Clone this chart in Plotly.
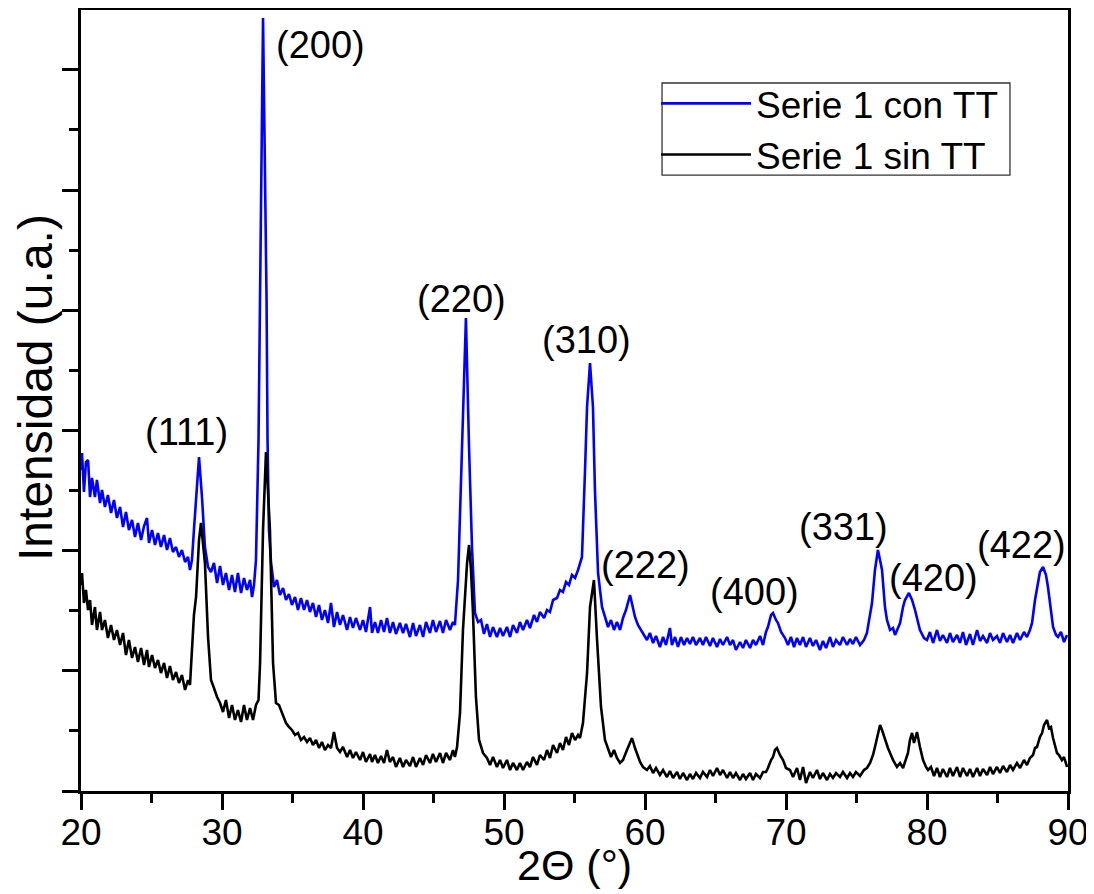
import plotly.graph_objects as go

# ---- data (2theta in degrees, intensity in arbitrary units) ----
con_tt_2theta = [20.00,20.07,20.21,20.35,20.50,20.64,20.78,20.99,21.13,21.35,21.49,21.70,21.91,22.13,22.34,22.55,22.77,22.98,23.19,23.40,
23.62,23.83,24.04,24.26,24.47,24.68,24.82,25.04,25.25,25.46,25.67,25.89,26.10,26.31,26.52,26.74,26.95,27.16,27.38,27.59,
27.73,27.87,28.01,28.16,28.37,28.58,28.79,29.01,29.22,29.43,29.65,29.86,30.07,30.28,30.50,30.71,30.92,31.13,31.35,31.56,
31.77,31.99,32.13,32.27,32.41,32.59,32.70,32.80,32.91,33.01,33.16,33.23,33.33,33.48,33.69,33.90,34.11,34.33,34.54,34.75,
34.96,35.18,35.39,35.60,35.82,36.03,36.24,36.45,36.67,36.88,37.09,37.30,37.52,37.73,37.94,38.16,38.37,38.58,38.87,39.08,
39.29,39.50,39.79,40.00,40.21,40.50,40.64,40.85,41.06,41.28,41.49,41.70,41.91,42.13,42.34,42.62,42.84,43.05,43.33,43.55,
43.76,44.04,44.26,44.47,44.75,44.96,45.18,45.46,45.67,45.89,46.17,46.38,46.52,46.74,47.02,47.30,47.52,47.73,47.94,48.16,
48.37,48.58,48.79,49.01,49.22,49.50,49.72,49.93,50.21,50.43,50.64,50.92,51.13,51.35,51.63,51.84,52.13,52.34,52.55,52.84,
53.05,53.26,53.48,53.76,53.97,54.18,54.40,54.61,54.82,55.04,55.25,55.53,55.74,55.89,56.10,56.31,56.45,56.67,56.95,57.16,
57.38,57.59,57.80,58.01,58.23,58.44,58.65,58.94,59.15,59.29,59.50,59.72,59.93,60.14,60.35,60.57,60.78,61.06,61.28,61.49,
61.77,61.91,62.13,62.34,62.55,62.77,62.98,63.19,63.40,63.62,63.90,64.11,64.33,64.61,64.82,65.11,65.32,65.53,65.82,66.03,
66.24,66.45,66.74,66.95,67.16,67.45,67.66,67.87,68.16,68.37,68.58,68.72,68.94,69.08,69.29,69.43,69.65,69.93,70.14,70.35,
70.57,70.78,70.99,71.21,71.42,71.70,71.91,72.13,72.41,72.62,72.84,73.12,73.33,73.55,73.83,74.04,74.33,74.54,74.75,74.96,
75.25,75.53,75.74,75.96,76.10,76.31,76.52,76.67,76.81,77.02,77.16,77.38,77.59,77.73,77.87,78.09,78.30,78.44,78.72,78.94,
79.15,79.36,79.50,79.79,80.00,80.21,80.43,80.71,80.92,81.13,81.42,81.63,81.84,82.13,82.34,82.55,82.77,83.05,83.26,83.55,
83.76,83.97,84.26,84.47,84.68,84.96,85.18,85.39,85.67,85.89,86.10,86.38,86.60,86.88,87.09,87.30,87.45,87.66,87.80,88.01,
88.23,88.44,88.58,88.79,88.94,89.15,89.29,89.50,89.72,89.93]
con_tt_intensity = [321,338,299,329,331,294,313,294,311,288,301,284,296,278,291,273,284,264,279,261,
271,254,268,251,265,273,248,261,246,258,244,256,241,253,239,244,234,241,229,234,
221,231,261,294,334,294,244,224,219,228,208,225,206,218,201,216,199,218,198,213,
201,211,194,206,231,351,491,661,773,661,491,351,261,228,204,211,196,203,191,197,
186,194,181,193,181,191,179,188,174,186,171,181,168,188,164,179,166,176,161,174,
163,173,161,171,159,184,158,169,158,171,159,173,158,169,157,168,158,167,154,168,
155,166,154,169,158,171,159,170,158,171,161,169,166,211,344,473,344,244,178,169,
171,157,167,154,164,154,163,155,164,154,166,158,169,161,171,163,176,169,179,173,
181,179,191,193,201,199,209,206,216,213,221,234,318,384,428,384,301,218,184,174,
164,171,161,169,161,173,181,196,183,174,166,161,156,151,158,148,155,144,154,146,
163,146,154,144,154,146,153,147,154,146,153,146,154,145,153,144,152,146,154,146,
151,141,149,143,151,143,151,146,155,146,159,164,176,178,171,168,159,153,146,154,
144,153,146,154,144,153,145,151,141,150,143,154,144,151,146,154,146,152,147,154,
146,151,158,176,188,221,241,231,221,184,171,161,163,156,161,168,184,191,198,191,
181,169,161,153,151,159,148,161,150,156,148,158,149,156,148,159,146,157,146,161,
150,155,148,158,151,155,148,158,149,156,148,158,151,159,154,161,168,191,204,219,
224,216,204,179,164,156,154,159,149,156]

sin_tt_2theta = [20.00,20.07,20.21,20.35,20.50,20.64,20.78,20.99,21.13,21.35,21.49,21.70,21.91,22.13,22.34,22.55,22.77,22.98,23.19,23.40,
23.62,23.83,24.04,24.26,24.47,24.68,24.82,25.04,25.25,25.46,25.67,25.89,26.10,26.31,26.52,26.74,26.95,27.16,27.38,27.59,
27.73,27.87,28.01,28.16,28.37,28.51,28.65,28.79,29.01,29.22,29.43,29.65,29.86,30.07,30.28,30.50,30.71,30.92,31.13,31.35,
31.56,31.77,31.99,32.20,32.41,32.59,32.70,32.91,33.12,33.40,33.62,33.83,34.04,34.18,34.40,34.54,34.75,34.96,35.18,35.39,
35.60,35.82,36.03,36.24,36.45,36.67,36.88,37.09,37.30,37.52,37.73,37.94,38.16,38.37,38.58,38.87,39.08,39.29,39.50,39.79,
40.00,40.21,40.50,40.64,40.85,41.06,41.28,41.49,41.70,41.91,42.13,42.34,42.62,42.84,43.05,43.33,43.55,43.76,44.04,44.26,
44.47,44.75,44.96,45.18,45.46,45.67,45.89,46.17,46.38,46.52,46.67,46.88,47.09,47.38,47.52,47.66,47.80,48.01,48.23,48.51,
48.79,49.01,49.22,49.50,49.72,49.93,50.21,50.43,50.64,50.92,51.13,51.35,51.63,51.84,52.06,52.34,52.55,52.84,53.05,53.26,
53.48,53.76,53.97,54.18,54.40,54.61,54.82,55.04,55.25,55.39,55.60,55.89,56.10,56.38,56.60,56.88,57.16,57.38,57.59,57.80,
58.01,58.23,58.44,58.72,58.94,59.08,59.29,59.43,59.65,59.86,60.14,60.35,60.57,60.78,61.06,61.28,61.56,61.77,61.99,62.27,
62.48,62.70,62.98,63.19,63.40,63.62,63.90,64.11,64.40,64.61,64.82,65.11,65.32,65.53,65.82,66.03,66.24,66.45,66.74,66.95,
67.16,67.45,67.66,67.87,68.16,68.37,68.58,68.72,68.94,69.08,69.22,69.36,69.57,69.79,70.00,70.28,70.50,70.78,70.99,71.21,
71.42,71.70,71.91,72.20,72.41,72.62,72.91,73.12,73.33,73.55,73.83,74.04,74.33,74.54,74.75,74.96,75.25,75.53,75.74,75.96,
76.17,76.31,76.52,76.67,76.81,77.02,77.23,77.38,77.59,77.87,78.09,78.30,78.51,78.65,78.79,78.94,79.08,79.29,79.50,79.72,
79.93,80.07,80.28,80.50,80.71,80.92,81.13,81.42,81.63,81.84,82.13,82.34,82.55,82.84,83.05,83.26,83.55,83.76,83.97,84.26,
84.47,84.68,84.96,85.18,85.39,85.67,85.89,86.10,86.38,86.60,86.88,87.09,87.30,87.52,87.66,87.80,88.01,88.16,88.30,88.44,
88.51,88.65,88.79,88.94,89.08,89.22,89.36,89.57,89.72,89.93]
sin_tt_intensity = [206,218,188,201,181,191,166,184,161,179,161,171,153,166,151,161,146,158,136,151,
133,144,129,143,126,141,124,136,123,131,118,128,113,125,111,119,108,116,101,111,
106,141,176,194,251,268,246,228,154,111,103,94,88,79,91,73,86,71,81,69,
86,71,83,71,86,91,128,261,339,261,128,88,86,81,73,68,64,61,56,58,
51,54,49,53,46,51,43,49,41,46,43,59,43,39,44,34,41,33,39,31,
39,29,37,29,36,28,35,28,41,29,34,24,33,24,31,25,34,24,33,26,
36,28,37,29,38,28,38,31,41,34,44,78,161,228,246,221,178,94,51,38,
33,26,34,24,31,23,31,21,28,21,28,21,29,24,34,26,36,31,41,33,
46,38,48,41,54,46,58,51,56,53,68,118,184,211,151,84,51,43,34,41,
33,28,31,41,49,53,43,38,29,24,21,25,18,23,16,21,14,20,13,19,
12,18,11,17,12,18,13,19,14,21,15,23,16,21,13,19,13,18,11,17,
12,18,11,17,13,19,19,23,31,34,41,43,36,31,23,21,14,23,11,24,
8,19,13,21,12,18,11,17,13,18,14,19,13,18,14,19,15,21,23,28,
36,44,56,66,61,51,43,38,31,24,28,23,31,38,51,58,48,59,44,31,
24,21,24,15,23,14,22,14,23,15,24,14,23,15,22,14,23,15,22,16,
24,17,24,18,25,19,26,21,28,23,31,26,33,36,43,44,54,58,66,69,
71,63,64,53,46,38,36,31,34,24]

series_names = ["Serie 1 con TT", "Serie 1 sin TT"]
series_colors = ["#0000FF", "#000000"]

peak_labels = ["(111)", "(200)", "(220)", "(310)", "(222)", "(400)", "(331)", "(420)", "(422)"]
peak_label_x = [27.45, 37.02, 47.02, 55.82, 60.00, 67.80, 74.11, 80.43, 86.67]
peak_label_y = [359, 746, 492, 451, 226, 199, 264, 213, 246]

x_range = [20, 90]
y_range = [0, 781]

FONT = "Arial, 'Liberation Sans', sans-serif"

fig = go.Figure()
fig.add_trace(go.Scatter(x=con_tt_2theta, y=con_tt_intensity, mode="lines", name=series_names[0],
                         line=dict(color=series_colors[0], width=2.6)))
fig.add_trace(go.Scatter(x=sin_tt_2theta, y=sin_tt_intensity, mode="lines", name=series_names[1],
                         line=dict(color=series_colors[1], width=2.6)))

for t, xx, yy in zip(peak_labels, peak_label_x, peak_label_y):
    fig.add_annotation(x=xx, y=yy, text=t, showarrow=False, xanchor="center", yanchor="middle",
                       font=dict(family=FONT, size=38, color="black"))

# axis titles placed as in the original
fig.add_annotation(x=0.5, y=-0.061, xref="paper", yref="paper", text="2Θ (°)", showarrow=False,
                   xanchor="center", yanchor="top", font=dict(family=FONT, size=43, color="black"))
fig.add_annotation(x=-0.0456, y=0.5173, xref="paper", yref="paper", text="Intensidad (u.a.)",
                   showarrow=False, textangle=-90, xanchor="center", yanchor="middle",
                   font=dict(family=FONT, size=48, color="black"))

# legend frame
fig.add_shape(type="rect", xref="paper", yref="paper", x0=0.5887, x1=0.9412, y0=0.7887, y1=0.9065,
              line=dict(color="#333333", width=1.3), fillcolor="rgba(0,0,0,0)", layer="above")

fig.update_layout(
    width=1086, height=886,
    margin=dict(l=73, r=26, t=2, b=103),
    paper_bgcolor="white", plot_bgcolor="white",
    font=dict(family=FONT, color="black"),
    showlegend=True,
    legend=dict(x=0.5826, y=0.9195, xanchor="left", yanchor="top",
                borderwidth=0, bgcolor="rgba(0,0,0,0)",
                font=dict(family=FONT, size=37, color="black"),
                itemwidth=90, tracegroupgap=0),
)
fig.update_xaxes(
    range=x_range, tick0=20, dtick=10, ticks="outside", ticklen=16, tickwidth=2.5, tickcolor="black",
    minor=dict(dtick=5, ticks="outside", ticklen=9, tickwidth=2.5, tickcolor="black"),
    showline=True, linewidth=2.5, linecolor="black", mirror=True,
    showgrid=False, zeroline=False, automargin=False,
    tickfont=dict(family=FONT, size=37, color="black"), ticklabelstandoff=-9,
)
fig.update_yaxes(
    range=y_range, tick0=0, dtick=120.2, ticks="outside", ticklen=16, tickwidth=2.5, tickcolor="black",
    minor=dict(dtick=60.1, ticks="outside", ticklen=9, tickwidth=2.5, tickcolor="black"),
    showticklabels=False,
    showline=True, linewidth=2.5, linecolor="black", mirror=True,
    showgrid=False, zeroline=False, automargin=False,
)

fig.write_html("out.html")
